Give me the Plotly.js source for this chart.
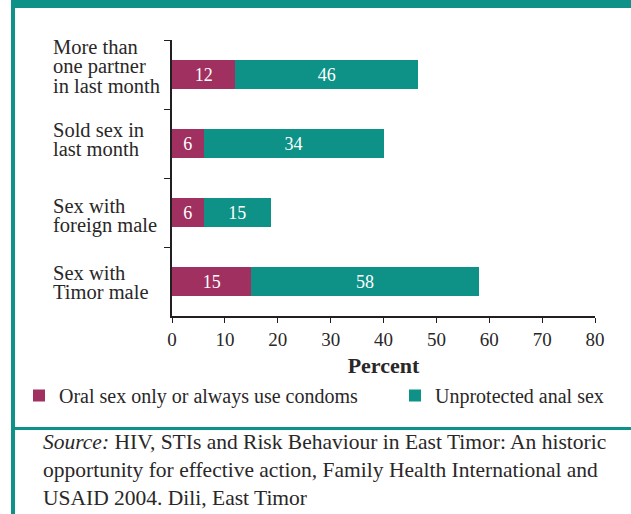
<!DOCTYPE html>
<html>
<head>
<meta charset="utf-8">
<script src="https://cdn.plot.ly/plotly-3.0.1.min.js"></script>
<style>html,body{margin:0;padding:0;background:#fff;}#chart{width:631px;height:514px;}</style>
</head>
<body>
<div id="chart"></div>
<script>
// ---- data ----
var categories = ["More than<br>one partner<br>in last month", "Sold sex in<br>last month", "Sex with<br>foreign male", "Sex with<br>Timor male"];
var condomValues = [12, 6, 6, 15];
var condomLabels = ["12", "6", "6", "15"];
var unprotectedBarEnd = [46.5, 40, 18.7, 58];   // where the teal bar ends on the axis
var unprotectedLabels = ["46", "34", "15", "58"];
var xTickValues = [0, 10, 20, 30, 40, 50, 60, 70, 80];
var seriesNames = ["Oral sex only or always use condoms", "Unprotected anal sex"];
var sourceText = "<i>Source:</i> HIV, STIs and Risk Behaviour in East Timor: An historic<br>opportunity for effective action, Family Health International and<br>USAID 2004. Dili, East Timor";

// ---- styling ----
var W = 631, H = 514;
var M = {l: 172, r: 36, t: 40, b: 198};
var PW = W - M.l - M.r, PH = H - M.t - M.b;
function px(x) { return (x - M.l) / PW; }
function py(y) { return 1 - (y - M.t) / PH; }
var MAGENTA = "#A0305F", TEAL = "#0E9186", INK = "#2a2728", AXIS = "#231f20";
var FONT = "Liberation Serif, Times New Roman, serif";
var labelShift = [8, 4, -3, -1];   // small vertical nudges of the category label blocks (px)

var unprotectedSegment = unprotectedBarEnd.map(function (v, i) { return v - condomValues[i]; });
var catKeys = categories.map(function (c, i) { return "c" + i; });

var traces = [
  {type: "bar", orientation: "h", name: seriesNames[0], y: catKeys, x: condomValues,
   marker: {color: MAGENTA}, text: condomLabels, textposition: "inside", insidetextanchor: "middle",
   textangle: 0, constraintext: "none", textfont: {family: FONT, size: 18, color: "#ffffff"},
   hoverinfo: "skip", legend: "legend"},
  {type: "bar", orientation: "h", name: seriesNames[1], y: catKeys, x: unprotectedSegment,
   marker: {color: TEAL}, text: unprotectedLabels, textposition: "inside", insidetextanchor: "middle",
   textangle: 0, constraintext: "none", textfont: {family: FONT, size: 18, color: "#ffffff"},
   hoverinfo: "skip", legend: "legend2"}
];

var annotations = [];
categories.forEach(function (c, i) {
  var lines = c.split("<br>");
  var n = lines.length;
  lines.forEach(function (ln, j) {
    annotations.push({xref: "paper", yref: "y", x: px(51), y: catKeys[i], text: ln,
      xanchor: "left", yanchor: "middle", align: "left", showarrow: false,
      yshift: -((j - (n - 1) / 2) * 19.5) + labelShift[i],
      font: {family: FONT, size: 20.5, color: INK}});
  });
});
annotations.push({xref: "paper", yref: "paper", x: px(41), y: py(470), xanchor: "left", yanchor: "middle",
  align: "left", showarrow: false, text: sourceText, font: {family: FONT, size: 21.5, color: INK}});

var shapes = [
  {type: "rect", xref: "paper", yref: "paper", x0: px(11), x1: px(631), y0: py(0), y1: py(8),
   fillcolor: TEAL, line: {width: 0}, layer: "above"},
  {type: "rect", xref: "paper", yref: "paper", x0: px(11), x1: px(15), y0: py(0), y1: py(514),
   fillcolor: TEAL, line: {width: 0}, layer: "above"},
  {type: "rect", xref: "paper", yref: "paper", x0: px(15), x1: px(631), y0: py(427), y1: py(430),
   fillcolor: TEAL, line: {width: 0}, layer: "above"}
];

var legendBase = {orientation: "h", xanchor: "left", yanchor: "top", y: py(376),
  font: {family: FONT, size: 20, color: INK}, bgcolor: "rgba(0,0,0,0)",
  itemclick: false, itemdoubleclick: false};

var layout = {
  width: W, height: H,
  margin: {l: M.l, r: M.r, t: M.t, b: M.b, pad: 0},
  paper_bgcolor: "#ffffff", plot_bgcolor: "#ffffff",
  font: {family: FONT, color: INK},
  barmode: "stack", bargap: 0.59,
  xaxis: {range: [0, 80], tickvals: xTickValues, ticktext: xTickValues.map(String),
    ticks: "outside", ticklen: 5, tickwidth: 1, tickcolor: AXIS,
    showline: true, linewidth: 2, linecolor: AXIS, showgrid: false, zeroline: false,
    tickfont: {family: FONT, size: 19, color: INK},
    title: {text: "<b>Percent</b>", font: {family: FONT, size: 22, color: INK}, standoff: 9},
    fixedrange: true},
  yaxis: {type: "category", autorange: "reversed", showticklabels: false,
    ticks: "outside", tickson: "boundaries", ticklen: 6, tickwidth: 1, tickcolor: AXIS,
    showline: true, linewidth: 2, linecolor: AXIS, showgrid: false, zeroline: false, fixedrange: true},
  showlegend: true,
  legend: Object.assign({}, legendBase, {x: px(19)}),
  legend2: Object.assign({}, legendBase, {x: px(395)}),
  annotations: annotations,
  shapes: shapes
};

Plotly.newPlot("chart", traces, layout, {displayModeBar: false, staticPlot: true});
</script>
</body>
</html>
